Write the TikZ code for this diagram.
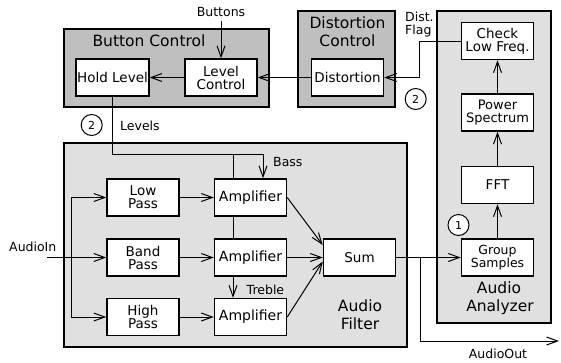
\documentclass[tikz,border=0pt]{standalone}
\usepackage{fontspec}
\setmainfont{DejaVu Sans}
\usetikzlibrary{arrows.meta}
\definecolor{darkgrp}{gray}{0.75}
\definecolor{lightgrp}{gray}{0.88}
\begin{document}
\begin{tikzpicture}[x=1pt,y=-1pt,
  >={Straight Barb[length=11pt,width=8pt]},
  blk/.style={draw, line width=1.5pt, fill=white, minimum width=72pt, minimum height=37pt, align=center, inner sep=1pt, font=\fontsize{13.5}{13}\selectfont},
  grpbox/.style={draw, line width=1.5pt, inner sep=0pt},
  darkbox/.style={grpbox, fill=darkgrp},
  lightbox/.style={grpbox, fill=lightgrp},
  lbl/.style={inner sep=0pt, anchor=base, font=\fontsize{12.5}{13}\selectfont},
  biglbl/.style={inner sep=0pt, anchor=base, font=\fontsize{15.5}{18}\selectfont},
  conn/.style={line width=1pt},
  num/.style={draw, circle, line width=1pt, fill=white, minimum size=21pt, inner sep=0pt, font=\fontsize{11}{11}\selectfont}
]
\useasboundingbox (0,0) rectangle (561,362);
% container boxes
\node[darkbox, minimum width=205pt, minimum height=78pt] (bc) at (166.5,68) {};
\node[darkbox, minimum width=97pt, minimum height=96pt] (dc) at (346.5,59) {};
\node[lightbox, minimum width=343pt, minimum height=204pt] (af) at (235.5,245) {};
\node[lightbox, minimum width=114pt, minimum height=312pt] (aa) at (494,167) {};
% container labels
\node[biglbl] (bclbl) at (149,46.7) {Button Control};
\node[biglbl] (dclbl1) at (347.5,28.3) {Distortion};
\node[biglbl] (dclbl2) at (347.5,46.7) {Control};
\node[biglbl] (aflbl1) at (360,311.7) {Audio};
\node[biglbl] (aflbl2) at (360,329) {Filter};
\node[biglbl] (aalbl1) at (499,293.3) {Audio};
\node[biglbl] (aalbl2) at (500,311.7) {Analyzer};
% blocks
\node[blk] (hold) at (112.5,77.5) {Hold Level};
\node[blk] (lc) at (221,77.5) {Level\\Control};
\node[blk] (dist) at (347.5,77.5) {Distortion};
\node[blk] (check) at (497.5,41) {Check\\Low Freq.};
\node[blk, font=\fontsize{13}{13}\selectfont] (pow) at (497.5,112.5) {Power\\Spectrum};
\node[blk] (fft) at (497.5,185) {FFT};
\node[blk, font=\fontsize{12.5}{12}\selectfont] (grp) at (497.5,257.5) {Group\\Samples};
\node[blk] (lp) at (143,197.5) {Low\\Pass};
\node[blk] (bp) at (143,257.5) {Band\\Pass};
\node[blk] (hp) at (143,317) {High\\Pass};
\node[blk, font=\fontsize{14}{14}\selectfont] (amp1) at (250.5,197.5) {Amplifier};
\node[blk, font=\fontsize{14}{14}\selectfont] (amp2) at (250.5,257.5) {Amplifier};
\node[blk, font=\fontsize{14}{14}\selectfont] (amp3) at (250.5,317) {Amplifier};
\node[blk] (sum) at (359.5,257.5) {Sum};
% labels
\node[lbl] (btnlbl) at (221,16.7) {Buttons};
\node[lbl, anchor=base west] (lvllbl) at (120,130) {Levels};
\node[lbl, anchor=base west] (basslbl) at (273,166.7) {Bass};
\node[lbl, anchor=base west] (treblbl) at (246.5,294) {Treble};
\node[lbl, anchor=base west] (ainlbl) at (9,251.7) {AudioIn};
\node[lbl] (aoutlbl) at (498,358) {AudioOut};
\node[lbl, anchor=base west] (dfl1) at (405,21.7) {Dist.};
\node[lbl, anchor=base west] (dfl2) at (405,34) {Flag};
% numbered circles
\node[num] (n2a) at (91.7,125) {2};
\node[num] (n2b) at (415.7,99) {2};
\node[num] (n1) at (458.5,225) {1};
% coordinates
\coordinate (btop) at (221,21);
\coordinate (lvl) at (263,154);
\coordinate (j1) at (233,154);
\coordinate (ain) at (47,257.5);
\coordinate (split) at (71,257.5);
\coordinate (br) at (420,257.5);
\coordinate (aout) at (559,341);
% connectors
\draw[conn,->] (btop) -- (lc.north);
\draw[conn,->] (dist.west) -- (lc.east);
\draw[conn,->] (lc.west) -- (hold.east);
\draw[conn,->] (check.west) -- ++(-41,0) |- (dist.east);
\draw[conn,->] (hold.south) |- (lvl) -- (lvl |- amp1.north);
\draw[conn] (j1) -- (j1 |- amp1.north);
\draw[conn] (j1 |- amp1.south) -- (j1 |- amp2.north);
\draw[conn,->] (j1 |- amp2.south) -- (j1 |- amp3.north);
\draw[conn,->] (ain) -- (bp.west);
\draw[conn] (split |- lp) -- (split |- hp);
\draw[conn,->] (split |- lp) -- (lp.west);
\draw[conn,->] (split |- hp) -- (hp.west);
\draw[conn,->] (lp.east) -- (amp1.west);
\draw[conn,->] (bp.east) -- (amp2.west);
\draw[conn,->] (hp.east) -- (amp3.west);
\draw[conn,->] (amp1.east) -- ([yshift=12.5pt]sum.west);
\draw[conn,->] (amp2.east) -- (sum.west);
\draw[conn,->] (amp3.east) -- ([yshift=-4pt]sum.west);
\draw[conn,->] (sum.east) -- (grp.west);
\draw[conn,->] (br) |- (aout);
\draw[conn,->] (grp.north) -- (fft.south);
\draw[conn,->] (fft.north) -- (pow.south);
\draw[conn,->] (pow.north) -- (check.south);
\end{tikzpicture}
\end{document}
